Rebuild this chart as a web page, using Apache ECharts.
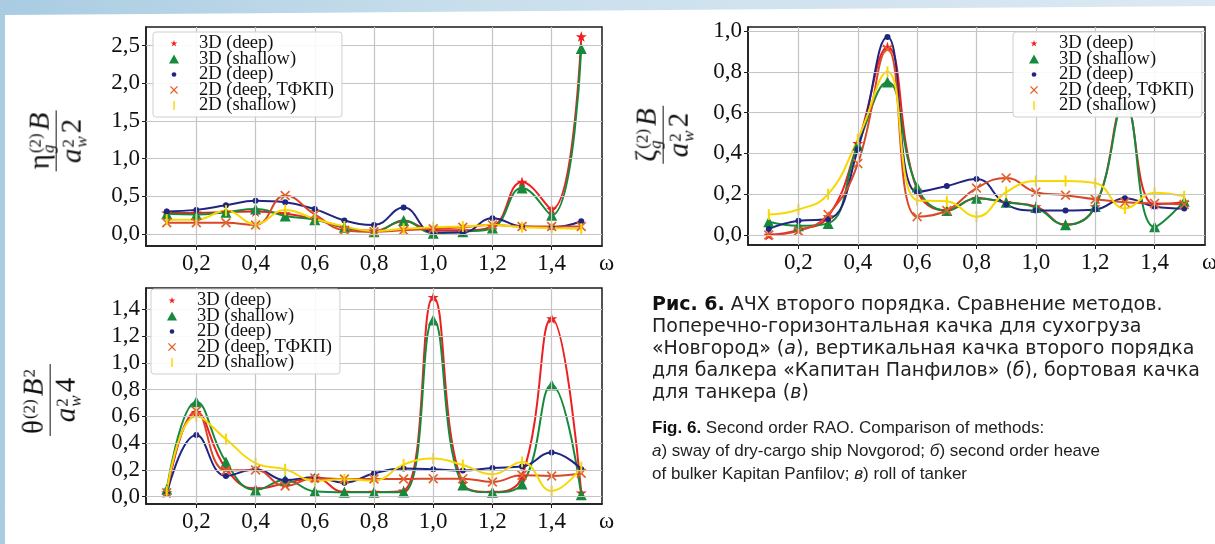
<!DOCTYPE html>
<html>
<head>
<meta charset="utf-8">
<script src="https://cdn.jsdelivr.net/npm/echarts@6/dist/echarts.min.js"></script>
<style>
    html, body { margin: 0; padding: 0; }
    body { width: 1215px; height: 544px; position: relative; overflow: hidden;
           background: linear-gradient(90deg, #a9cce2 0%, #c9dfec 40%, #dbe9f2 100%); }
    #panel { position: absolute; left: 5px; top: 0; width: 1210px; height: 544px; background: #fff;
             clip-path: polygon(0 15px, 100% 6px, 100% 100%, 0 100%); }
    #chart { position: absolute; left: 0; top: 0; width: 1215px; height: 544px; }
    .yt { position: absolute; transform: translate(-50%, -50%) rotate(-90deg);
          font-family: 'Liberation Serif', serif; font-size: 29px; color: #111; white-space: nowrap; }
    .frac { display: inline-flex; flex-direction: column; align-items: center; }
    .frac .n { border-bottom: 1.5px solid #111; padding: 0 2px 1px 2px; line-height: 29px; }
    .frac .d { line-height: 29px; }
    .ss { display: inline-flex; flex-direction: column; font-size: 17px; line-height: 13px;
          vertical-align: middle; margin: 0 3px 0 1px; }
    .cap { position: absolute; left: 652px; color: #222; white-space: nowrap; }
    .ru { font-family: 'DejaVu Sans', sans-serif; font-size: 19px; line-height: 22px; top: 292px; }
    .en { font-family: 'Liberation Sans', sans-serif; font-size: 17px; line-height: 23px; top: 416px; }
    .cap b { color: #111; }
</style>
</head>
<body>
<div id="panel"></div>
<div id="chart"></div>

<div class="yt" style="left:55px; top:141px;">
    <span class="frac">
        <span class="n">η<span class="ss"><span>(2)</span><span><i>g</i></span></span><i>B</i></span>
        <span class="d"><i>a</i><span class="ss"><span>2</span><span><i>w</i></span></span>2</span>
    </span>
</div>
<div class="yt" style="left:662px; top:135px;">
    <span class="frac">
        <span class="n">ζ<span class="ss"><span>(2)</span><span><i>g</i></span></span><i>B</i></span>
        <span class="d"><i>a</i><span class="ss"><span>2</span><span><i>w</i></span></span>2</span>
    </span>
</div>
<div class="yt" style="left:49px; top:400px;">
    <span class="frac">
        <span class="n">θ<span class="ss"><span>(2)</span><span>&nbsp;</span></span><i>B</i><span class="ss"><span>2</span><span>&nbsp;</span></span></span>
        <span class="d"><i>a</i><span class="ss"><span>2</span><span><i>w</i></span></span>4</span>
    </span>
</div>

<div class="cap ru">
    <b>Рис. 6.</b> АЧХ второго порядка. Сравнение методов.<br>
    Поперечно-горизонтальная качка для сухогруза<br>
    «Новгород» (<i>а</i>), вертикальная качка второго порядка<br>
    для балкера «Капитан Панфилов» (<i>б</i>), бортовая качка<br>
    для танкера (<i>в</i>)
</div>
<div class="cap en">
    <b>Fig. 6.</b> Second order RAO. Comparison of methods:<br>
    <i>а</i>) sway of dry-cargo ship Novgorod; <i>б</i>) second order heave<br>
    of bulker Kapitan Panfilov; <i>в</i>) roll of tanker
</div>

<script type="text/javascript">
    // частоты и подписи осей
    var omega = [0.1, 0.2, 0.3, 0.4, 0.5, 0.6, 0.7, 0.8, 0.9, 1.0, 1.1, 1.2, 1.3, 1.4, 1.5];
    var xTicks = [0.2, 0.4, 0.6, 0.8, 1.0, 1.2, 1.4];
    var yTicksA = [0, 0.5, 1.0, 1.5, 2.0, 2.5];
    var yTicksB = [0, 0.2, 0.4, 0.6, 0.8, 1.0];
    var yTicksC = [0, 0.2, 0.4, 0.6, 0.8, 1.0, 1.2, 1.4];
    var names = ['3D (deep)', '3D (shallow)', '2D (deep)', '2D (deep, ТФКП)', '2D (shallow)'];

    // (а) поперечно-горизонтальная качка
    var a3dDeep    = [0.28, 0.28, 0.29, 0.30, 0.27, 0.20, 0.08, 0.04, 0.17, 0.05, 0.05, 0.10, 0.69, 0.33, 2.62];
    var a3dShallow = [0.27, 0.26, 0.29, 0.33, 0.24, 0.19, 0.09, 0.03, 0.18, 0.01, 0.03, 0.08, 0.61, 0.25, 2.46];
    var a2dDeep    = [0.30, 0.32, 0.38, 0.44, 0.42, 0.33, 0.18, 0.12, 0.35, 0.02, 0.02, 0.21, 0.10, 0.09, 0.17];
    var a2dTfkp    = [0.15, 0.15, 0.15, 0.12, 0.51, 0.26, 0.05, 0.03, 0.05, 0.07, 0.09, 0.12, 0.10, 0.10, 0.10];
    var a2dShallow = [0.19, 0.19, 0.31, 0.13, 0.32, 0.20, 0.10, 0.04, 0.07, 0.09, 0.10, 0.12, 0.09, 0.08, 0.07];

    // (б) вертикальная качка
    var b3dDeep    = [0.00, 0.025, 0.09, 0.45, 0.92, 0.22, 0.12, 0.18, 0.16, 0.14, 0.05, 0.14, 0.64, 0.15, 0.16];
    var b3dShallow = [0.065, 0.045, 0.057, 0.44, 0.75, 0.235, 0.12, 0.18, 0.16, 0.135, 0.05, 0.14, 0.64, 0.04, 0.165];
    var b2dDeep    = [0.03, 0.07, 0.078, 0.42, 0.97, 0.21, 0.24, 0.275, 0.15, 0.12, 0.12, 0.125, 0.18, 0.14, 0.13];
    var b2dTfkp    = [0.00, 0.02, 0.10, 0.35, 0.91, 0.09, 0.12, 0.23, 0.28, 0.21, 0.195, 0.175, 0.16, 0.155, 0.15];
    var b2dShallow = [0.10, 0.125, 0.20, 0.47, 0.80, 0.17, 0.165, 0.09, 0.21, 0.265, 0.265, 0.255, 0.13, 0.207, 0.19];

    // (в) бортовая качка
    var c3dDeep    = [0.03, 0.63, 0.21, 0.06, 0.10, 0.14, 0.035, 0.035, 0.045, 1.49, 0.10, 0.035, 0.15, 1.33, 0.03];
    var c3dShallow = [0.055, 0.71, 0.26, 0.05, 0.125, 0.04, 0.033, 0.033, 0.035, 1.32, 0.087, 0.033, 0.095, 0.835, 0.015];
    var c2dDeep    = [0.02, 0.46, 0.155, 0.205, 0.125, 0.145, 0.105, 0.175, 0.21, 0.205, 0.195, 0.215, 0.225, 0.33, 0.205];
    var c2dTfkp    = [0.03, 0.64, 0.195, 0.20, 0.08, 0.14, 0.132, 0.132, 0.132, 0.135, 0.135, 0.11, 0.16, 0.155, 0.175];
    var c2dShallow = [0.04, 0.60, 0.43, 0.25, 0.205, 0.12, 0.13, 0.12, 0.24, 0.285, 0.237, 0.167, 0.26, 0.043, 0.22];

    var colors = ['#ee1f1f', '#168a3c', '#1f2580', '#e2642c', '#f7d800'];
    var lineColors = ['#ee1f1f', '#168a3c', '#1f2580', '#d9472a', '#f7d800'];
    var starPath = 'path://M50,0L61.8,35.4L98.9,35.4L68.9,57.3L80.3,92.7L50,70.8L19.7,92.7L31.1,57.3L1.1,35.4L38.2,35.4Z';
    var crossPath = 'path://M0,1.2L1.2,0L5,3.8L8.8,0L10,1.2L6.2,5L10,8.8L8.8,10L5,6.2L1.2,10L0,8.8L3.8,5Z';
    var symbols = [starPath, 'triangle', 'circle', crossPath, 'rect'];
    var symbolSizes = [11, 11, 6, 10, [2, 11]];
    var legendIcons = [
        'path://M-15,-15L-15,-15M115,115L115,115' + starPath.slice(7),
        'path://M5,0.5L10,9.5L0,9.5Z',
        'path://M0,0L0,0M10,10L10,10M7.6,5A2.6,2.6,0,1,1,7.6,4.99Z',
        'path://M0,0L0,0M10,10L10,10M0.5,1.5L1.5,0.5L5,4L8.5,0.5L9.5,1.5L6,5L9.5,8.5L8.5,9.5L5,6L1.5,9.5L0.5,8.5L4,5Z',
        'path://M0,0L0,0M10,10L10,10M4.2,0L5.8,0L5.8,10L4.2,10Z'
    ];

    function fmt(v) { return v.toFixed(1).replace('.', ','); }

    var serif = 'Liberation Serif';
    var grids = [
        {left: 146, top: 27, width: 456, height: 219},
        {left: 748, top: 27, width: 457, height: 218},
        {left: 146, top: 288, width: 456, height: 216}
    ];
    var yRanges = [[-0.159, 2.745], [-0.049, 1.0196], [-0.0545, 1.5586]];
    var yTickSets = [yTicksA, yTicksB, yTicksC];
    var dataSets = [
        [a3dDeep, a3dShallow, a2dDeep, a2dTfkp, a2dShallow],
        [b3dDeep, b3dShallow, b2dDeep, b2dTfkp, b2dShallow],
        [c3dDeep, c3dShallow, c2dDeep, c2dTfkp, c2dShallow]
    ];
    var legendPos = [{left: 153, top: 32}, {left: 1013, top: 32}, {left: 151, top: 289}];

    var option = {
        animation: false,
        grid: [], xAxis: [], yAxis: [], legend: [], series: []
    };

    for (var g = 0; g < 3; g++) {
        option.grid.push({
            left: grids[g].left, top: grids[g].top, width: grids[g].width, height: grids[g].height,
            show: true, borderColor: '#1a1a1a', borderWidth: 1.5, backgroundColor: 'transparent',
            outerBoundsMode: 'none', containLabel: false
        });
        option.xAxis.push({
            gridIndex: g, type: 'value', min: 0.03, max: 1.57,
            name: 'ω', nameLocation: 'end', nameGap: -3,
            nameTextStyle: {fontFamily: serif, fontSize: 23, color: '#111', verticalAlign: 'top', padding: [6, 0, 0, 0]},
            axisLine: {show: true, onZero: false, lineStyle: {color: '#1a1a1a', width: 1.5}},
            axisTick: {show: true, length: 4, customValues: xTicks, lineStyle: {color: '#1a1a1a'}},
            axisLabel: {customValues: xTicks, formatter: fmt, margin: 6, fontFamily: serif, fontSize: 23, color: '#111'},
            splitLine: {show: false}
        });
        option.yAxis.push({
            gridIndex: g, type: 'value', min: yRanges[g][0], max: yRanges[g][1],
            axisLine: {show: true, onZero: false, lineStyle: {color: '#1a1a1a', width: 1.5}},
            axisTick: {show: true, length: 4, customValues: yTickSets[g], lineStyle: {color: '#1a1a1a'}},
            axisLabel: {customValues: yTickSets[g], formatter: fmt, margin: 6, fontFamily: serif, fontSize: 23, color: '#111'},
            splitLine: {show: false}
        });

        // сетка
        var gridLines = xTicks.map(function (v) { return {xAxis: v}; })
            .concat(yTickSets[g].map(function (v) { return {yAxis: v}; }));
        option.series.push({
            type: 'line', xAxisIndex: g, yAxisIndex: g, data: [], z: 1, silent: true,
            markLine: {
                symbol: ['none', 'none'], silent: true, animation: false,
                label: {show: false}, emphasis: {disabled: true},
                lineStyle: {color: '#c4c4c4', width: 1.2, type: 'solid'},
                data: gridLines
            }
        });

        for (var s = 0; s < 5; s++) {
            var vals = dataSets[g][s];
            option.series.push({
                name: names[s], type: 'line', xAxisIndex: g, yAxisIndex: g, z: 2,
                smooth: 0.45,
                data: omega.map(function (x, i) { return [x, vals[i]]; }),
                symbol: symbols[s], symbolSize: symbolSizes[s], showAllSymbol: true,
                itemStyle: {color: colors[s], borderWidth: 0},
                lineStyle: {color: lineColors[s], width: 2},
                emphasis: {disabled: true}
            });
        }

        option.legend.push({
            z: 10,
            left: legendPos[g].left, top: legendPos[g].top, orient: 'vertical',
            backgroundColor: 'rgba(255,255,255,0.9)', borderColor: '#cfcfcf', borderWidth: 1, borderRadius: 3,
            padding: [2, 8, 2, 16], itemGap: -3.5, itemWidth: 10, itemHeight: 9, selectedMode: false,
            textStyle: {fontFamily: serif, fontSize: 18.5, color: '#111', padding: [0, 0, 0, 15]},
            data: names.map(function (n, i) { return {name: n, icon: legendIcons[i]}; })
        });
    }

    var chart = echarts.init(document.getElementById('chart'), null, {renderer: 'canvas'});
    chart.setOption(option);
</script>
</body>
</html>
